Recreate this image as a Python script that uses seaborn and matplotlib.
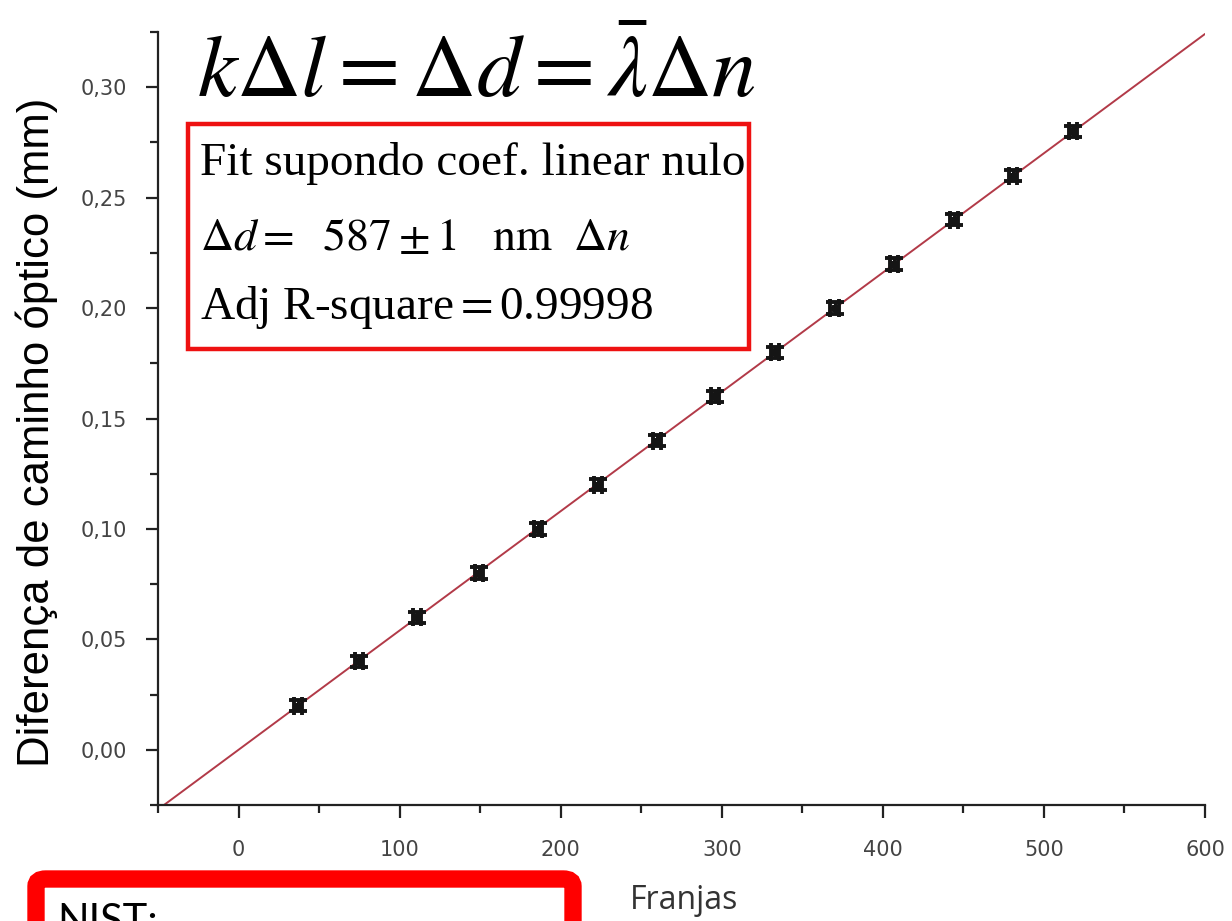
import numpy as np
import pandas as pd
import matplotlib
matplotlib.use("Agg")
import matplotlib.pyplot as plt
from matplotlib.patches import Rectangle, FancyBboxPatch
from matplotlib.ticker import MultipleLocator, FuncFormatter
import seaborn as sns

# Measured fringe counts and optical path differences (mm)
franjas = [37, 75, 111, 149, 186, 223, 260, 296, 333, 370, 407, 444, 481, 518]
delta_d = [0.02, 0.04, 0.06, 0.08, 0.10, 0.12, 0.14, 0.16, 0.18, 0.20, 0.22, 0.24, 0.26, 0.28]
err_x = [2.5] * len(franjas)
err_y = [0.0026] * len(franjas)

x_range = [-50, 600]

df = pd.DataFrame({"Franjas": franjas, "dd": delta_d})

# Least-squares slope for a line through the origin
xa = np.asarray(franjas, float)
ya = np.asarray(delta_d, float)
slope = (xa * ya).sum() / (xa * xa).sum()
fit_df = pd.DataFrame({"x": x_range, "y": [slope * v for v in x_range]})

sns.set_theme(style="ticks")
plt.rcParams["mathtext.fontset"] = "stix"
plt.rcParams["text.color"] = "black"

W, H = 1232, 921
fig = plt.figure(figsize=(W / 100, H / 100), dpi=100)
ax = fig.add_axes([158 / W, 1 - 805 / H, (1205 - 158) / W, (805 - 32) / H])

sns.lineplot(data=fit_df, x="x", y="y", ax=ax, color="#b23a48", lw=1.4, zorder=2)
eb = ax.errorbar(franjas, delta_d, xerr=err_x, yerr=err_y, fmt="s", ms=5,
                 color="#151515", ecolor="#151515", elinewidth=2.2,
                 capsize=6.5, capthick=2.8, zorder=3)
eb[0].set_markeredgecolor("#151515")
eb[0].set_markeredgewidth(0.8)
for cap in eb[1]:
    cap.set_markeredgewidth(2.8)
    cap.set_color("#151515")

ax.set_xlim(-50, 600)
ax.set_ylim(-0.025, 0.325)
ax.set_xlabel("")
ax.set_ylabel("")

for side in ("top", "right"):
    ax.spines[side].set_visible(False)
for side in ("left", "bottom"):
    ax.spines[side].set_linewidth(1.6)
    ax.spines[side].set_color("#222222")

ax.xaxis.set_major_locator(MultipleLocator(100))
ax.xaxis.set_minor_locator(MultipleLocator(50))
ax.yaxis.set_major_locator(MultipleLocator(0.05))
ax.yaxis.set_minor_locator(MultipleLocator(0.025))
ax.yaxis.set_major_formatter(FuncFormatter(lambda v, p: f"{v:.2f}".replace(".", ",")))
ax.xaxis.set_major_formatter(FuncFormatter(lambda v, p: f"{v:.0f}"))

ax.tick_params(axis="both", which="major", direction="out", length=9, width=1.6,
               color="#222222", labelsize=15, labelcolor="#444444")
ax.tick_params(axis="both", which="minor", direction="out", length=6, width=1.6,
               color="#222222")
ax.tick_params(axis="x", which="major", pad=16)
ax.tick_params(axis="y", which="major", pad=13)

# Axis titles
fig.text(37 / W, 1 - 432 / H, "Diferença de caminho óptico (mm)", rotation=90,
         ha="center", va="center", fontsize=31.5, family="Liberation Sans",
         color="black")
fig.text(684 / W, 1 - 900 / H, "Franjas", ha="center", va="center",
         fontsize=23, family="Open Sans", color="#333333")

# Relation between displacement, path difference and fringes
fig.text(197 / W, 1 - 97 / H, r"$k\Delta l = \Delta d = \bar{\lambda}\Delta n$",
         ha="left", va="baseline", fontsize=64, color="black")

# Fit result box
fig.add_artist(Rectangle((188 / W, 1 - 349 / H), (749 - 188) / W, (349 - 124) / H,
                         transform=fig.transFigure, fill=False,
                         edgecolor="#ee1111", lw=3.2))
serif = "Liberation Serif"
fig.text(200 / W, 1 - 175 / H, "Fit supondo coef. linear nulo", ha="left",
         va="baseline", fontsize=34, family=serif)
fig.text(200 / W, 1 - 250 / H,
         r"$\Delta d =\ \ 587 \pm 1\ \ \ \mathrm{nm}\ \ \Delta n$",
         ha="left", va="baseline", fontsize=33)
fig.text(200 / W, 1 - 319 / H, r"Adj R-square$=$0.99998", ha="left",
         va="baseline", fontsize=34, family=serif)

# Reference value box
fig.add_artist(FancyBboxPatch((36 / W, -0.2), (573 - 36) / W, 1 - 879 / H + 0.2,
                              boxstyle="round,pad=0,rounding_size=0.008",
                              transform=fig.transFigure, fill=False,
                              edgecolor="#ff0000", lw=12.5))
fig.text(57 / W, 1 - 934 / H, "NIST:", ha="left", va="baseline", fontsize=30,
         family="Lato", color="black")

fig.savefig("out.png", dpi=100, facecolor="white")
